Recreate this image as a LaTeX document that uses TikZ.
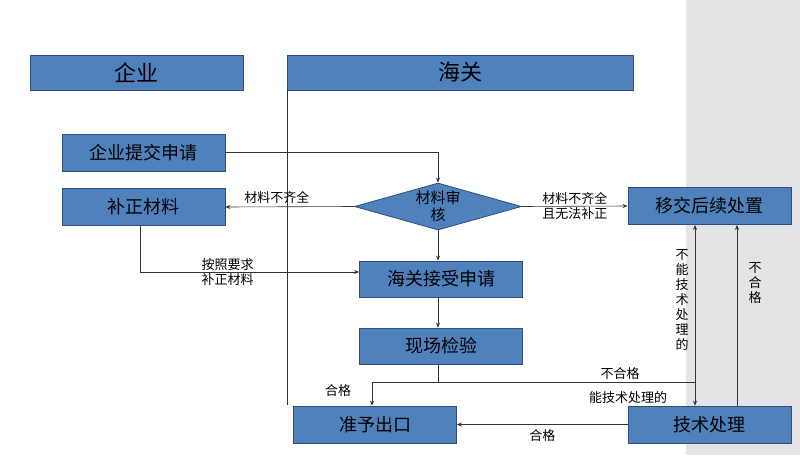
\documentclass[tikz,border=0pt]{standalone}
\usepackage{fontspec}
\setmainfont{Noto Sans CJK SC}
\usetikzlibrary{shapes.geometric,arrows.meta}
\definecolor{bfill}{HTML}{4F81BD}
\definecolor{bdraw}{HTML}{2F4F7A}
\definecolor{gbg}{HTML}{E4E4E4}
\tikzset{
 box/.style={draw=bdraw,fill=bfill,line width=0.8pt,minimum width=163pt,minimum height=37pt,inner sep=0pt,font=\fontsize{18}{18}\selectfont},
 lab/.style={font=\fontsize{13}{15}\selectfont,inner sep=1pt,align=center},
 ar/.style={draw=black!80,line width=0.6pt,-{Stealth[length=5pt,width=4pt]}},
 ln/.style={draw=black!80,line width=0.6pt},
}
\begin{document}
\begin{tikzpicture}[x=1pt,y=-1pt]
\useasboundingbox (0,0) rectangle (800,455);
\fill[white] (0,0) rectangle (686,455);
\fill[gbg] (686,0) rectangle (800,455);
\node[box,minimum width=213pt,minimum height=35pt,font=\fontsize{22}{22}\selectfont] (qy) at (136.5,72.5) {企业};
\node[box,minimum width=346pt,minimum height=35pt,font=\fontsize{22}{22}\selectfont] (hg) at (460,72.5) {海关};
\coordinate (vt) at (287,90);
\coordinate (vb) at (287,405);
\draw[ln] (vt) -- (vb);
\node[box] (tj) at (143.5,152.5) {企业提交申请};
\node[box] (bz) at (143.5,207) {补正材料};
\node[diamond,draw=bdraw,fill=bfill,line width=0.8pt,minimum width=167pt,minimum height=47pt,aspect=3.5,inner sep=0pt,font=\fontsize{15}{17}\selectfont,align=center] (sh) at (438,206.5) {材料审\\核};
\node[box] (yj) at (709.5,206) {移交后续处置};
\node[box,minimum height=36pt] (js) at (441,279) {海关接受申请};
\node[box,minimum height=36pt] (xc) at (441,346) {现场检验};
\node[box] (zy) at (375,424.5) {准予出口};
\node[box] (js2) at (709.5,424.5) {技术处理};
\draw[ar] (tj.east) -- (438,152.5) -- (sh.north);
\draw[ar] (sh.west) -- node[lab,above=2pt,pos=0.6]{材料不齐全} (bz.east);
\draw[ar] (sh.east) -- node[lab,pos=0.5]{材料不齐全\\且无法补正} (yj.west);
\draw[ar] (bz.south -| 140,0) -- (140,272) -- node[lab,pos=0.4,align=left]{按照要求\\补正材料} (js.west |- 0,272);
\draw[ar] (sh.south) -- (js.north -| sh.south);
\draw[ar] (js.south -| 438,0) -- (xc.north -| 438,0);
\coordinate (sp) at (438,382);
\coordinate (jr) at (695,382);
\draw[ln] (xc.south -| sp) -- (sp);
\draw[ar] (jr) -- (372,382) -- (zy.north -| 372,0);
\draw[ar] (jr) -- (js2.north -| jr);
\draw[ar] (jr) -- (yj.south -| jr);
\node[lab] at (338,391) {合格};
\node[lab] at (620,374) {不合格};
\node[lab] at (628,398) {能技术处理的};
\node[lab,text width=14pt] at (682,300) {不\\能\\技\\术\\处\\理\\的};
\draw[ar] (js2.west) -- node[lab,below=4pt]{合格} (zy.east);
\draw[ar] (js2.north -| 737,0) -- (yj.south -| 737,0);
\node[lab,text width=14pt] at (755,283) {不\\合\\格};
\end{tikzpicture}
\end{document}
